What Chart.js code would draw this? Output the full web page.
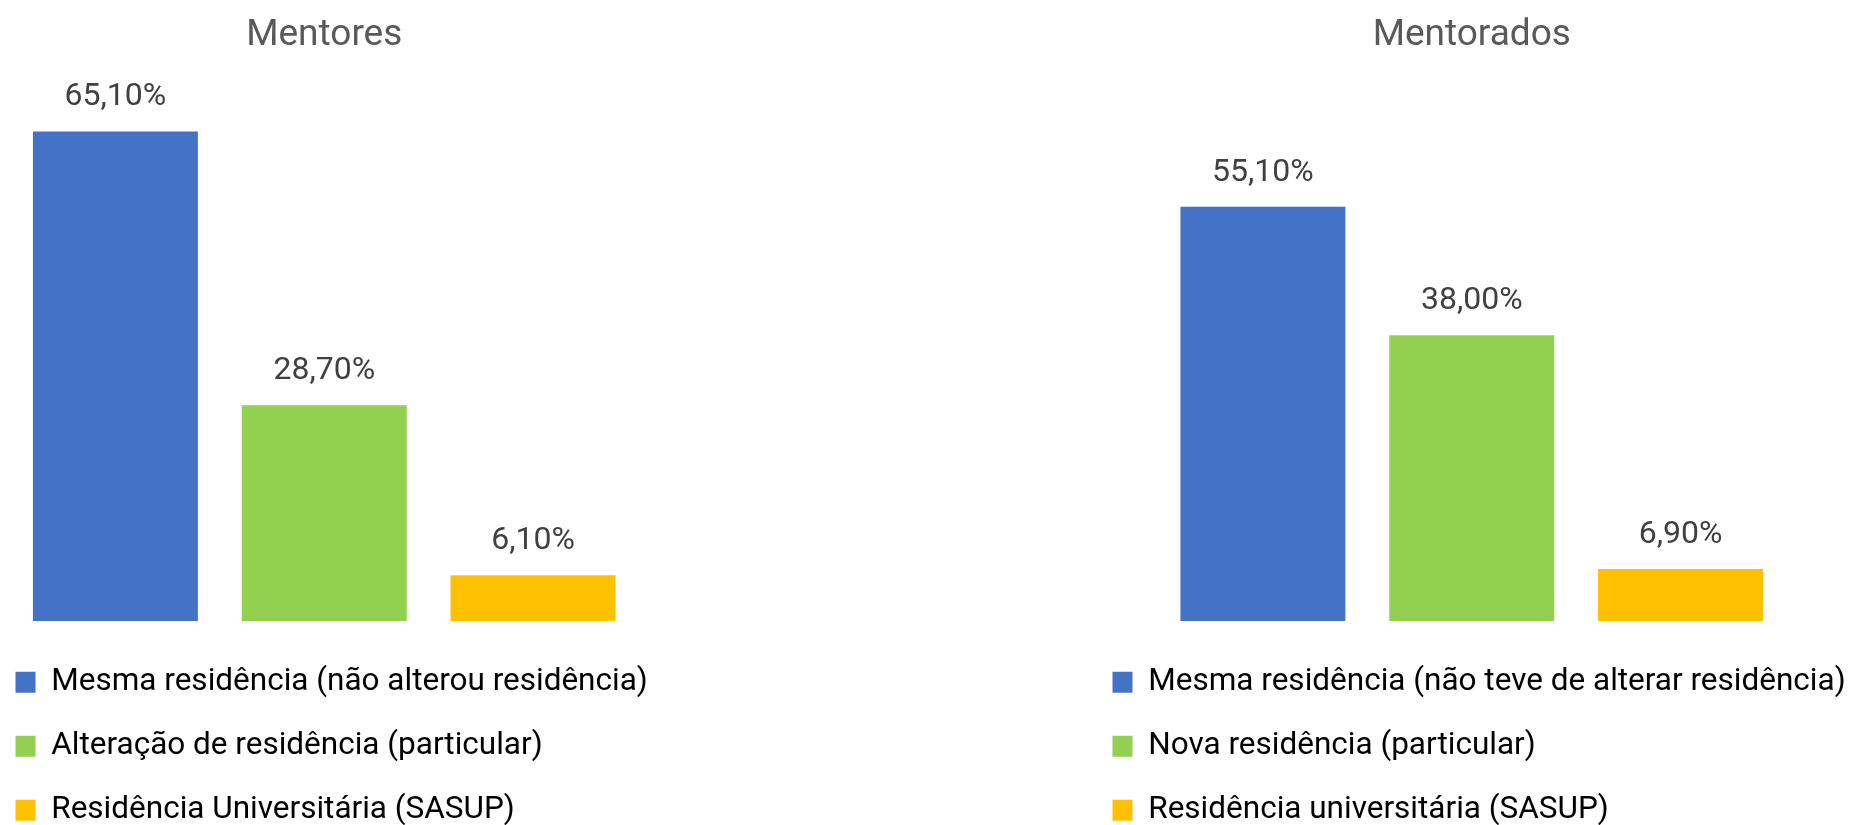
<!DOCTYPE html>
<html>
<head>
<meta charset="utf-8">
<script src="https://cdn.jsdelivr.net/npm/chart.js@4/dist/chart.umd.min.js"></script>
<style>
  html, body { margin: 0; padding: 0; background: #fff; overflow: hidden; width: 1850px; height: 825px; }
  .panel { position: absolute; top: 0; height: 836px; }
  #left { left: -17.5px; width: 700px; }
  #right { left: 1079.5px; width: 770.5px; }
</style>
</head>
<body>
<div class="panel" id="left"><canvas id="mentores"></canvas></div>
<div class="panel" id="right"><canvas id="mentorados"></canvas></div>
<script>
var
	fontFamily = "Roboto, 'DejaVu Sans', sans-serif",
	barColors = ["#4472C4", "#92D050", "#FFC000"];

var mentoresLabels = [
	"Mesma residência (não alterou residência)",
	"Alteração de residência (particular)",
	"Residência Universitária (SASUP)"
];
var mentoresValues = [65.1, 28.7, 6.1];

var mentoradosLabels = [
	"Mesma residência (não teve de alterar residência)",
	"Nova residência (particular)",
	"Residência universitária (SASUP)"
];
var mentoradosValues = [55.1, 38.0, 6.9];

// write the percentage above each bar, portuguese decimal comma
var valueLabels = {
	id: 'valueLabels',
	afterDatasetsDraw: function (chart) {
		var ctx = chart.ctx;
		var meta = chart.getDatasetMeta(0);
		var data = chart.data.datasets[0].data;
		ctx.save();
		ctx.font = "32px " + fontFamily;
		ctx.fillStyle = "#404040";
		ctx.textAlign = "center";
		ctx.textBaseline = "middle";
		meta.data.forEach(function (bar, i) {
			ctx.fillText(data[i].toFixed(2).replace('.', ',') + '%', bar.x, bar.y - 34);
		});
		ctx.restore();
	}
};

// invisible axis, only used to keep space at one side of the bars
function spacer(position, width) {
	return {
		display: true,
		position: position,
		ticks: { display: false },
		grid: { display: false, drawTicks: true, tickLength: width },
		border: { display: false }
	};
}

function makeChart(canvasId, title, labels, values, leftSpace, rightSpace) {
	var ctx = document.getElementById(canvasId).getContext('2d');
	var y = spacer('left', leftSpace);
	y.min = 0;
	y.max = 70;

	return new Chart(ctx, {
		type: 'bar',
		data: {
			labels: labels,
			datasets: [{
				data: values,
				backgroundColor: barColors,
				borderWidth: 0,
				barPercentage: 0.79,
				categoryPercentage: 1
			}]
		},
		options: {
			responsive: true,
			maintainAspectRatio: false,
			animation: false,
			layout: { padding: 0 },
			scales: {
				x: spacer('bottom', 13),
				y: y,
				yRight: spacer('right', rightSpace)
			},
			plugins: {
				title: {
					display: true,
					fullSize: false,
					text: title,
					color: "#595959",
					font: { family: fontFamily, size: 37, weight: 'normal' },
					padding: { top: 13.7, bottom: 36.5 }
				},
				legend: {
					display: true,
					position: 'bottom',
					align: 'start',
					labels: {
						color: "#595959",
						font: { family: fontFamily, size: 31.5 },
						boxWidth: 20,
						boxHeight: 21,
						padding: 32.5,
						generateLabels: function (chart) {
							return chart.data.labels.map(function (label, i) {
								return {
									text: label,
									fillStyle: barColors[i],
									strokeStyle: barColors[i],
									lineWidth: 0,
									index: i,
									datasetIndex: 0
								};
							});
						}
					}
				},
				tooltip: { enabled: false }
			}
		},
		plugins: [valueLabels]
	});
}

makeChart('mentores', 'Mentores', mentoresLabels, mentoresValues, 28, 45.5);
makeChart('mentorados', 'Mentorados', mentoradosLabels, mentoradosValues, 78.5, 65.5);
</script>
</body>
</html>
